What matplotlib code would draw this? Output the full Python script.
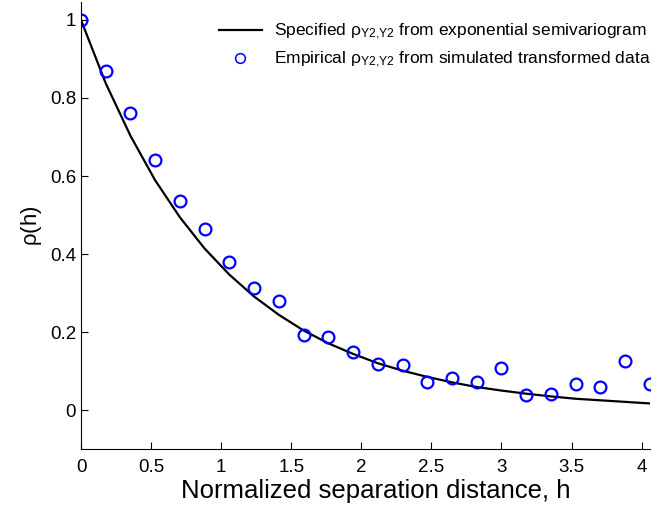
import numpy as np
import matplotlib.pyplot as plt

plt.rcParams['font.family'] = ['Liberation Sans', 'DejaVu Sans']
plt.rcParams['mathtext.fontset'] = 'custom'
plt.rcParams['mathtext.rm'] = 'Liberation Sans'
plt.rcParams['mathtext.it'] = 'Liberation Sans'

# lag distances (normalized), spacing ~0.1765
h = [0.000, 0.176, 0.353, 0.529, 0.706, 0.882, 1.059, 1.235, 1.412, 1.588,
     1.765, 1.941, 2.118, 2.294, 2.471, 2.647, 2.824, 3.000, 3.176, 3.353,
     3.529, 3.706, 3.882, 4.059]

# specified correlation from exponential semivariogram
rho_model = [1.000, 0.838, 0.703, 0.589, 0.494, 0.414, 0.347, 0.291, 0.244, 0.204,
             0.171, 0.144, 0.120, 0.101, 0.085, 0.071, 0.059, 0.050, 0.042, 0.035,
             0.029, 0.025, 0.021, 0.017]

# empirical correlation from simulated transformed data
rho_emp = [1.000, 0.869, 0.761, 0.640, 0.535, 0.463, 0.380, 0.314, 0.280, 0.193,
           0.187, 0.149, 0.119, 0.116, 0.073, 0.081, 0.073, 0.109, 0.039, 0.042,
           0.066, 0.059, 0.126, 0.066]

fig = plt.figure(figsize=(6.64, 5.08), dpi=100)
ax = fig.add_axes([0.122, 0.116, 0.857, 0.880])

ax.plot(h, rho_model, color='black', lw=1.6,
        label=r'Specified $\rho_{\mathrm{Y2{,}Y2}}$ from exponential semivariogram')
ax.plot(h, rho_emp, 'o', mfc='none', mec=(0, 0, 1), mew=1.6, ms=8.5,
        label=r'Empirical $\rho_{\mathrm{Y2{,}Y2}}$ from simulated transformed data')

ax.set_xlim(0, 4.06)
ax.set_ylim(-0.1, 1.046)
ax.set_xticks([0, 0.5, 1, 1.5, 2, 2.5, 3, 3.5, 4])
ax.set_xticklabels(['0', '0.5', '1', '1.5', '2', '2.5', '3', '3.5', '4'])
ax.set_yticks([0, 0.2, 0.4, 0.6, 0.8, 1])
ax.set_yticklabels(['0', '0.2', '0.4', '0.6', '0.8', '1'])
ax.tick_params(direction='in', length=5, labelsize=13.5, width=0.8)
ax.tick_params(axis='x', pad=7)
ax.spines['top'].set_visible(False)
ax.spines['right'].set_visible(False)

ax.set_xlabel('Normalized separation distance, h', fontsize=18.5)
ax.xaxis.set_label_coords(0.518, -0.068, transform=ax.transAxes)
ax.xaxis.label.set_va('top')
ax.set_ylabel(r'$\rho$(h)', fontsize=16)

leg = ax.legend(loc='upper right', bbox_to_anchor=(1.017, 0.975), frameon=False,
                fontsize=12.5, handlelength=2.5, borderaxespad=0.1,
                handletextpad=0.7, labelspacing=0.45)
leg.legend_handles[1].set_markersize(7)
leg.legend_handles[1].set_markeredgewidth(1.1)

fig.savefig('out.png', dpi=100)
